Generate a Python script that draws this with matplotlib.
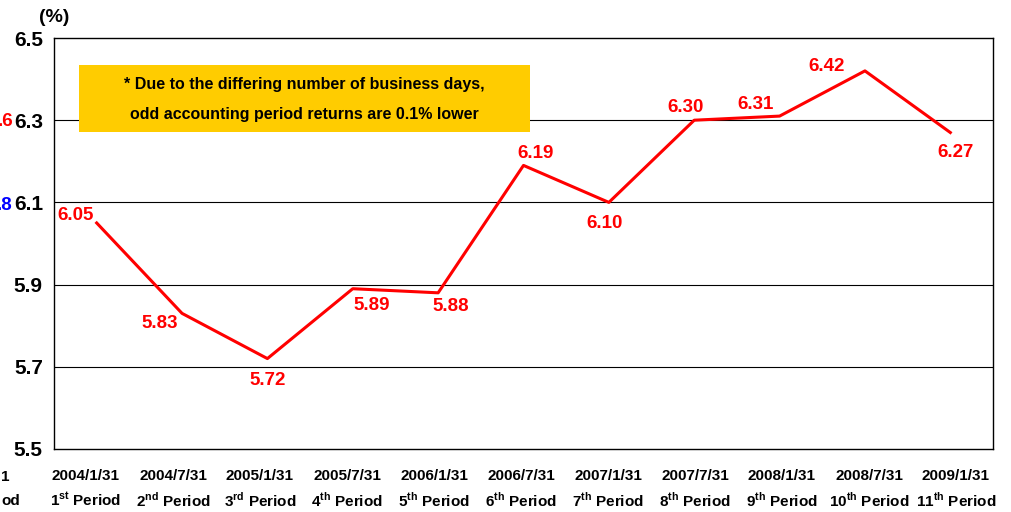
import matplotlib.pyplot as plt
from matplotlib.patches import Rectangle

plt.rcParams['font.family'] = ['Liberation Sans', 'DejaVu Sans']
plt.rcParams['font.weight'] = 'bold'
plt.rcParams['mathtext.fontset'] = 'custom'
plt.rcParams['mathtext.rm'] = 'Liberation Sans:bold'
plt.rcParams['mathtext.bf'] = 'Liberation Sans:bold'

dates = ['2004/1/31', '2004/7/31', '2005/1/31', '2005/7/31', '2006/1/31', '2006/7/31',
         '2007/1/31', '2007/7/31', '2008/1/31', '2008/7/31', '2009/1/31']
suffixes = ['st', 'nd', 'rd', 'th', 'th', 'th', 'th', 'th', 'th', 'th', 'th']
returns = [6.05, 5.83, 5.72, 5.89, 5.88, 6.19, 6.10, 6.30, 6.31, 6.42, 6.27]
# label offsets in pixels (dx, dy)
label_offsets = [(-21, 7), (-22, -10), (0, -22), (19, -17), (13, -14), (12, 12),
                 (-4, -21), (-9, 13), (-24, 12), (-38, 4), (5, -20)]
y_ticks = [5.5, 5.7, 5.9, 6.1, 6.3, 6.5]

W, H = 1012, 512


def px(x, y):
    # pixel position (from top-left) to figure fraction
    return x / W, 1 - y / H


def main():
    fig = plt.figure(figsize=(W / 100, H / 100), dpi=100)
    ax = fig.add_axes([54 / W, 1 - 449 / H, 939 / W, 411 / H])

    x = list(range(len(returns)))
    ax.plot(x, returns, color='#FF0000', linewidth=2.2, zorder=3)

    for i, v in enumerate(returns):
        dx, dy = label_offsets[i]
        ax.annotate(f'{v:.2f}', (i, v), xytext=(dx * 0.72, dy * 0.72),
                    textcoords='offset points', ha='center', va='center',
                    color='#FF0000', fontsize=13.5, fontweight='bold')

    ax.set_xlim(-0.5, len(returns) - 0.5)
    ax.set_ylim(5.5, 6.5)
    ax.set_yticks(y_ticks)
    ax.set_yticklabels([f'{t:.1f}' for t in y_ticks], fontsize=15, fontweight='bold')
    ax.tick_params(axis='y', length=0, pad=8)
    ax.set_xticks(x)
    ax.set_xticklabels([])
    ax.tick_params(axis='x', length=0)
    for t in y_ticks[1:-1]:
        ax.axhline(t, color='#000000', linewidth=0.8, zorder=1)
    for s in ax.spines.values():
        s.set_linewidth(1.0)

    # two-line category labels (slightly wider spacing than the plot columns)
    for i in x:
        cx = 86 + 87 * i
        fig.text(*px(cx, 476), dates[i], ha='center', va='center',
                 fontsize=11, fontweight='bold')
        fig.text(*px(cx, 500), f'{i + 1}$^{{\\mathrm{{{suffixes[i]}}}}}$ Period',
                 ha='center', va='center', fontsize=11, fontweight='bold')

    # note box
    bx, by = px(79, 132)
    fig.patches.append(Rectangle((bx, by), 451 / W, 67 / H, transform=fig.transFigure,
                                 facecolor='#FFCC00', edgecolor='none', zorder=4))
    fig.text(*px(304, 85), '* Due to the differing number of business days,',
             ha='center', va='center', fontsize=11.5, fontweight='bold', zorder=5)
    fig.text(*px(304, 114), 'odd accounting period returns are 0.1% lower',
             ha='center', va='center', fontsize=11.5, fontweight='bold', zorder=5)

    fig.text(*px(54, 17), '(%)', ha='center', va='center', fontsize=14, fontweight='bold')

    # remnants of neighbouring chart on the left
    fig.text(*px(13, 121), '.6', color='#FF0000', ha='right', va='center',
             fontsize=13.5, fontweight='bold')
    fig.text(*px(13, 205), '.8', color='#0000FF', ha='right', va='center',
             fontsize=13.5, fontweight='bold')
    fig.text(*px(9, 477), '1', ha='right', va='center', fontsize=11, fontweight='bold')
    fig.text(*px(20, 501), 'od', ha='right', va='center', fontsize=11, fontweight='bold')

    plt.savefig('out.png', dpi=100)


if __name__ == '__main__':
    main()
